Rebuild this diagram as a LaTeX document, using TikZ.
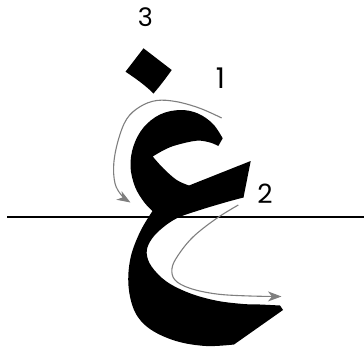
\documentclass[tikz,border=0pt]{standalone}
\usepackage{fontspec}
\newfontfamily\numfont{Poppins}
\usetikzlibrary{arrows.meta}
\definecolor{arrowgray}{HTML}{7F7F7F}
\tikzset{
  glyph/.style={fill=black, draw=none},
  baseln/.style={line width=2.2pt, black},
  garrow/.style={draw=arrowgray, line width=1.1pt,
    -{Stealth[length=13.5pt,width=10pt,inset=4pt,fill=arrowgray]}},
  lbl/.style={inner sep=0pt, text=black},
}
\begin{document}
\begin{tikzpicture}[x=1pt,y=-1pt]
\useasboundingbox (0,0) rectangle (364,351);
% baseline
\coordinate (bl) at (7,217.3);
\coordinate (br) at (364,217.3);
\draw[baseln] (bl) -- (br);
% dot (diamond)
\fill[glyph] (143.5,48.3) -- (171.7,70) .. controls (166,78) and (160,86) .. (153.5,93.5)
  .. controls (145,85) and (135,78) .. (125.5,71.7) -- cycle;
% letter body
\fill[glyph] (222.7,138.3)
  -- plot[smooth,tension=0.6] coordinates {(222.7,138.3) (213,124) (198,113.5) (180,110) (160,114.5) (143.5,127.5) (133.5,146) (130.5,166.7) (135,186.7) (144,202) (152.5,211)}
  -- plot[smooth,tension=0.6] coordinates {(152.5,211) (140,232) (130.5,258) (128.5,286) (135,312) (150,329) (176,341) (206,346) (234,344.5)}
  -- (283,310) -- (280,305.5)
  -- plot[smooth,tension=0.6] coordinates {(280,305.5) (260,304.5) (243.3,304) (216.7,300.7) (190,293.3) (166.7,281.7) (151.7,266.7) (146.7,253.3) (150,241.7) (160,230) (176.7,218.3) (200,210) (226.7,202) (243.5,197.5)}
  -- (250.7,161) -- (189,185.5)
  -- plot[smooth,tension=0.6] coordinates {(189,185.5) (176.7,180) (163.3,168.3) (152.7,156.5)}
  -- plot[smooth,tension=0.6] coordinates {(152.7,156.5) (165,149.5) (176.7,145) (196.7,140.7) (210,142.5) (218.3,146)}
  -- cycle;
% stroke arrows
\draw[garrow] plot[smooth,tension=0.6] coordinates {(221.7,118) (200,108.3) (176.7,101.7) (156.7,100.5) (140,106.7) (126.7,119) (118.3,140) (113.8,163.3) (115,183.3) (121.7,195.5) (130.5,202.5)};
\draw[garrow] plot[smooth,tension=0.6] coordinates {(238.3,205) (216.7,218.3) (193.3,236.7) (178.3,255) (172,268.3) (175,280) (190,288.3) (216.7,294) (250,296) (281.5,296.5)};
% labels
\node[lbl, font=\numfont\fontsize{25.5}{26}\selectfont] (n3) at (145.5,17.2) {3};
\node[lbl, font=\numfont\fontsize{28.5}{29}\selectfont] (n1) at (220.5,78) {1};
\node[lbl, font=\numfont\fontsize{26.5}{27}\selectfont] (n2) at (265,194) {2};
\end{tikzpicture}
\end{document}
